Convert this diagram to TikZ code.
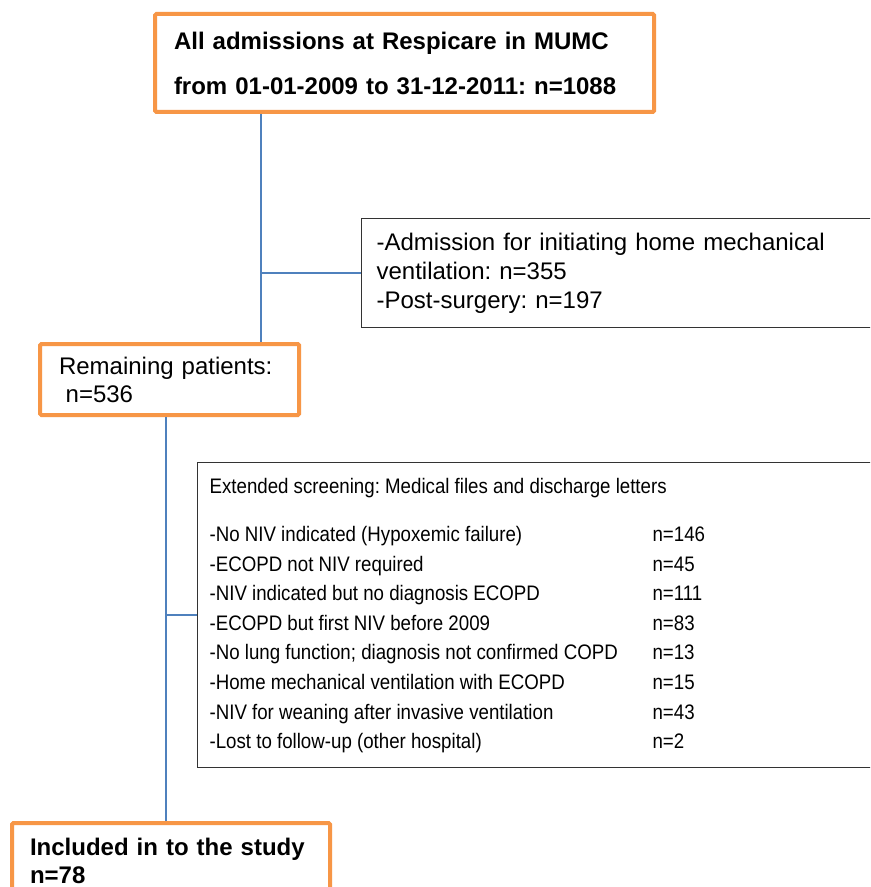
\documentclass[tikz,border=0pt]{standalone}
\usepackage{fontspec}
\setmainfont{Liberation Sans}
\newfontfamily\narrowfont{Liberation Sans}[FakeStretch=0.89]
\usepackage{tikz}
\definecolor{boxorange}{HTML}{F79646}
\definecolor{linkblue}{HTML}{4F81BD}
\frenchspacing

\begin{document}
\begin{tikzpicture}[x=0.75pt, y=-0.75pt,
    mainbox/.style={draw=boxorange, line width=3pt, rounded corners=1pt, anchor=north west, align=left, inner ysep=0pt},
    sidebox/.style={draw=black!80, line width=0.9pt, anchor=north west, align=left, inner ysep=0pt},
    link/.style={draw=linkblue, line width=1.1pt}]
        % Canvas
        \useasboundingbox (0,0) rectangle (870,887);
        \fill[white] (0,0) rectangle (870,887);
        \clip (0,0) rectangle (870,887);

        % Define the boxes
        \node[mainbox, inner xsep=14.25pt, text width=345.75pt, minimum height=73.5pt,
              font=\bfseries\fontsize{18pt}{33.75pt}\selectfont] (all) at (153,12)
              {All admissions at Respicare in MUMC\\from 01-01-2009 to 31-12-2011: n=1088};
        \node[sidebox, inner xsep=11.25pt, text width=375pt, minimum height=81.75pt,
              font=\fontsize{18pt}{21.75pt}\selectfont] (excl) at (361,218)
              {-Admission for initiating home mechanical\\ventilation: n=355\\-Post-surgery: n=197};
        \node[mainbox, inner xsep=14.25pt, text width=165.75pt, minimum height=53.25pt,
              font=\fontsize{18pt}{21pt}\selectfont] (remain) at (38,342)
              {Remaining patients:\\\hspace*{5pt}n=536};
        \node[sidebox, inner xsep=9pt, minimum height=228.75pt,
              font=\narrowfont\fontsize{15.75pt}{22.2pt}\selectfont] (screen) at (197,462)
              {\begin{tabular}{@{}p{332.25pt}@{}p{180pt}@{}}
               \multicolumn{2}{@{}l@{}}{Extended screening: Medical files and discharge letters}\\[14pt]
               -No NIV indicated (Hypoxemic failure) & n=146\\
               -ECOPD not NIV required & n=45\\
               -NIV indicated but no diagnosis ECOPD & n=111\\
               -ECOPD but first NIV before 2009 & n=83\\
               -No lung function; diagnosis not confirmed COPD & n=13\\
               -Home mechanical ventilation with ECOPD & n=15\\
               -NIV for weaning after invasive ventilation & n=43\\
               -Lost to follow-up (other hospital) & n=2
               \end{tabular}};
        \node[mainbox, inner xsep=13.5pt, text width=211.5pt, minimum height=57pt,
              font=\bfseries\fontsize{18pt}{21pt}\selectfont] (incl) at (10,821)
              {Included in to the study\\n=78};

        % Define the edges
        \coordinate (trunk) at (261,0);
        \coordinate (stem) at (166,0);
        \draw[link] (all.south -| trunk) -- (remain.north -| trunk);
        \draw[link] (excl.west -| trunk) -- (excl.west);
        \draw[link] (remain.south -| stem) -- (incl.north -| stem);
        \draw[link] (screen.west -| stem) -- (screen.west);

    \end{tikzpicture}
\end{document}
